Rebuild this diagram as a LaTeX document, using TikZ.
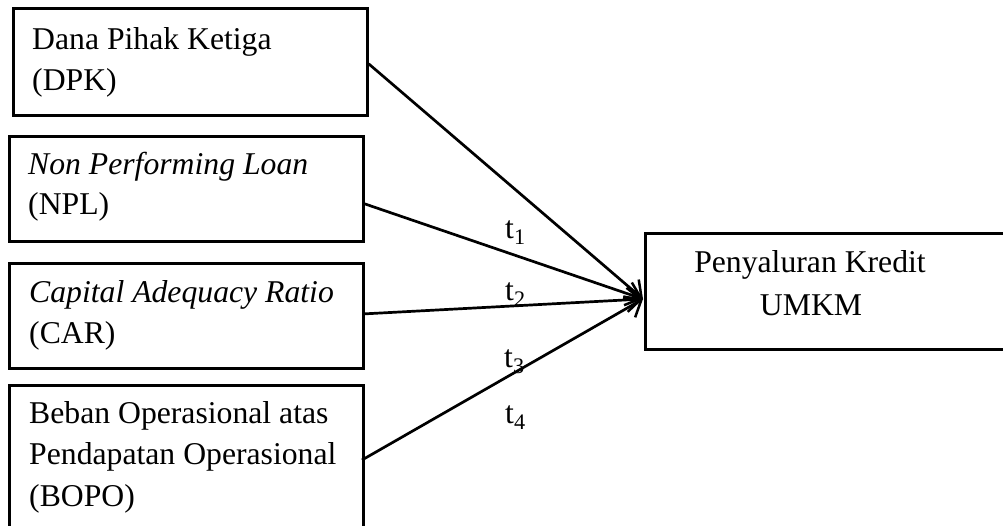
\documentclass[tikz,border=0pt]{standalone}
\usepackage{fontspec}
\setmainfont{Liberation Serif}
\usetikzlibrary{arrows.meta}
\begin{document}
\begin{tikzpicture}[x=1pt,y=-1pt,
  box/.style={draw=black,line width=2.7pt,inner sep=0pt,anchor=north west},
  txt/.style={inner sep=0pt,anchor=base west,font=\fontsize{31.7}{40}\selectfont},
  ctxt/.style={inner sep=0pt,anchor=base,font=\fontsize{31.7}{40}\selectfont},
  tl/.style={inner sep=0pt,anchor=base west,font=\fontsize{31.7}{40}\selectfont},
  conn/.style={line width=2.7pt,-{Straight Barb[length=14pt,width=24pt,line width=2.5pt]}}]
\useasboundingbox (0,0) rectangle (1003,525);
\clip (0,0) rectangle (1003,525);
% boxes
\node[box,minimum width=354pt,minimum height=107pt] (dpk) at (12,7) {};
\node[box,minimum width=354pt,minimum height=105pt] (npl) at (8,135) {};
\node[box,minimum width=354pt,minimum height=105pt] (car) at (8,262) {};
\node[box,minimum width=354pt,minimum height=160pt] (bopo) at (8,384) {};
\node[box,minimum width=380pt,minimum height=116pt] (umkm) at (644,232) {};
% texts
\node[txt] (dpk1) at (32,49) {Dana Pihak Ketiga};
\node[txt] (dpk2) at (32,90) {(DPK)};
\node[txt] (npl1) at (28,174) {\itshape Non Performing Loan};
\node[txt] (npl2) at (28,214) {(NPL)};
\node[txt] (car1) at (29,302) {\itshape Capital Adequacy Ratio};
\node[txt] (car2) at (29,343) {(CAR)};
\node[txt] (bopo1) at (29,423) {Beban Operasional atas};
\node[txt] (bopo2) at (29,464) {Pendapatan Operasional};
\node[txt] (bopo3) at (29,506) {(BOPO)};
\node[ctxt] (umkm1) at (810,272) {Penyaluran Kredit};
\node[ctxt] (umkm2) at (811,315) {UMKM};
% connectors
\coordinate (tip) at (643,299);
\draw[conn] ([yshift=-2pt]dpk.east) -- (tip);
\draw[conn] ([yshift=-15pt]npl.east) -- (tip);
\draw[conn] ([yshift=2pt]car.east) -- (tip);
\draw[conn] (362,460) coordinate (bstart) -- (tip);
% labels
\node[tl] (t1) at (505,238) {t\textsubscript{1}};
\node[tl] (t2) at (505,300) {t\textsubscript{2}};
\node[tl] (t3) at (504,367) {t\textsubscript{3}};
\node[tl] (t4) at (505,423) {t\textsubscript{4}};
\end{tikzpicture}
\end{document}
